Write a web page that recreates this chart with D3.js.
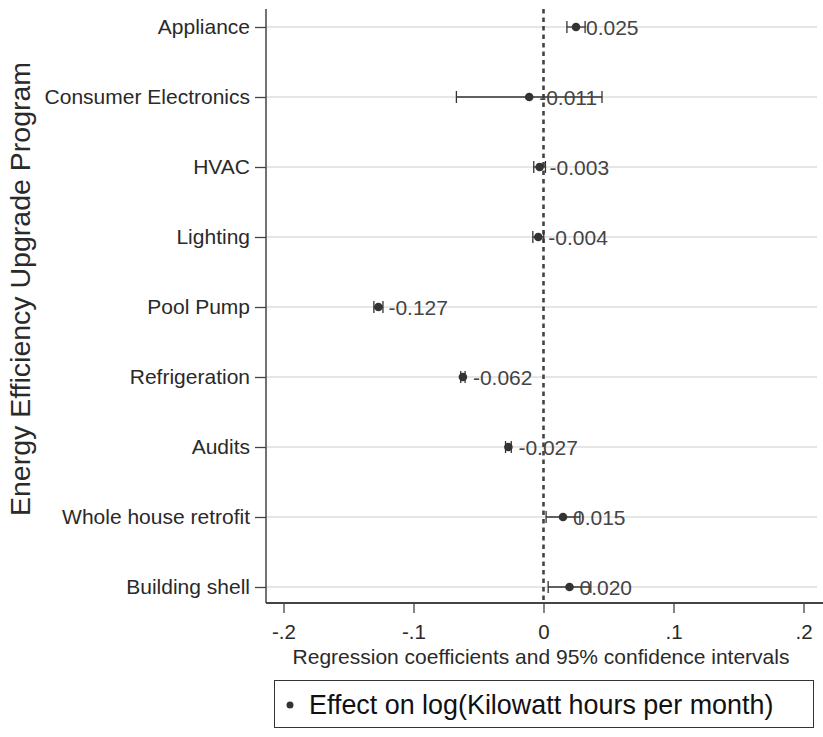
<!DOCTYPE html>
<html>
<head>
<meta charset="utf-8">
<script src="https://cdn.jsdelivr.net/npm/d3@7"></script>
<style>
  html, body { margin: 0; padding: 0; background: #fff; }
  svg { display: block; }
  text { font-family: "Liberation Sans", Arial, sans-serif; }
</style>
</head>
<body>
<svg id="chart" width="823" height="737"></svg>
<script>
// ---- data ----
const categories = ["Appliance", "Consumer Electronics", "HVAC", "Lighting", "Pool Pump",
  "Refrigeration", "Audits", "Whole house retrofit", "Building shell"];
const estimates = [0.025, -0.011, -0.003, -0.004, -0.127, -0.062, -0.027, 0.015, 0.020];
const ciLow  = [0.018, -0.067, -0.0075, -0.0082, -0.1305, -0.0637, -0.0292, 0.002, 0.0036];
const ciHigh = [0.032, 0.045, 0.0015, 0.0002, -0.1235, -0.0603, -0.0248, 0.028, 0.0364];
const labels = ["0.025", "-0.011", "-0.003", "-0.004", "-0.127", "-0.062", "-0.027", "0.015", "0.020"];
const xTicks = [-0.2, -0.1, 0, 0.1, 0.2];
const xTickLabels = ["-.2", "-.1", "0", ".1", ".2"];

(function () {
const svg = d3.select("#chart");
const plotLeft = 266, plotRight = 823, plotTop = 9, plotBottom = 603;

const x = d3.scaleLinear().domain([-0.2, 0.2]).range([283.5, 803.5]);
const y = d3.scalePoint().domain(categories).range([27, 587]);

// gridlines
svg.append("g").selectAll("line").data(categories).join("line")
  .attr("x1", plotLeft).attr("x2", 817)
  .attr("y1", d => y(d)).attr("y2", d => y(d))
  .attr("stroke", "#e6e6e6").attr("stroke-width", 2);

// zero reference line
svg.append("line")
  .attr("x1", x(0)).attr("x2", x(0)).attr("y1", plotTop).attr("y2", plotBottom)
  .attr("stroke", "#444").attr("stroke-width", 2.6).attr("stroke-dasharray", "4.5,4");

// y axis
const yAxis = d3.axisLeft(y).tickSize(11).tickPadding(5);
const gy = svg.append("g").attr("transform", `translate(${plotLeft},0)`).call(yAxis);
gy.select(".domain").attr("d", `M0,${plotTop}V${plotBottom}`).attr("stroke", "#444").attr("stroke-width", 1.5);
gy.selectAll(".tick line").attr("stroke", "#444").attr("stroke-width", 1.3);
gy.selectAll(".tick text").attr("font-size", 21).attr("fill", "#2a2a2a")
  .attr("font-family", "'Liberation Sans', Arial, sans-serif");

// x axis
const xAxis = d3.axisBottom(x).tickValues(xTicks).tickSize(10).tickPadding(11)
  .tickFormat((d, i) => xTickLabels[i]);
const gx = svg.append("g").attr("transform", `translate(0,${plotBottom})`).call(xAxis);
gx.select(".domain").attr("d", `M${plotLeft},0H${plotRight}`).attr("stroke", "#444").attr("stroke-width", 2);
gx.selectAll(".tick line").attr("stroke", "#444").attr("stroke-width", 1.3);
gx.selectAll(".tick text").attr("font-size", 20.5).attr("fill", "#2a2a2a")
  .attr("font-family", "'Liberation Sans', Arial, sans-serif");

// axis titles
svg.append("text").attr("x", 541).attr("y", 664).attr("text-anchor", "middle")
  .attr("font-size", 21).attr("fill", "#2a2a2a")
  .text("Regression coefficients and 95% confidence intervals");
svg.append("text").attr("transform", "translate(30,289) rotate(-90)").attr("text-anchor", "middle")
  .attr("font-size", 28.5).attr("fill", "#2a2a2a")
  .text("Energy Efficiency Upgrade Program");

// CIs
const rows = categories.map((c, i) => ({ c, est: estimates[i], lo: ciLow[i], hi: ciHigh[i], lab: labels[i] }));
const g = svg.append("g");
g.selectAll("line.ci").data(rows).join("line").attr("class", "ci")
  .attr("x1", d => x(d.lo)).attr("x2", d => x(d.hi))
  .attr("y1", d => y(d.c)).attr("y2", d => y(d.c))
  .attr("stroke", "#333").attr("stroke-width", 1.3);
["lo", "hi"].forEach(k => {
  g.selectAll("line.cap" + k).data(rows).join("line").attr("class", "cap" + k)
    .attr("x1", d => x(d[k])).attr("x2", d => x(d[k]))
    .attr("y1", d => y(d.c) - 6).attr("y2", d => y(d.c) + 6)
    .attr("stroke", "#333").attr("stroke-width", 1.3);
});
g.selectAll("circle").data(rows).join("circle")
  .attr("cx", d => x(d.est)).attr("cy", d => y(d.c)).attr("r", 4.3)
  .attr("fill", "#333");
g.selectAll("text.lab").data(rows).join("text").attr("class", "lab")
  .attr("x", d => x(d.est) + 10).attr("y", d => y(d.c) + 7.5)
  .attr("font-size", 21).attr("fill", "#444")
  .text(d => d.lab);

// legend
svg.append("rect").attr("x", 274.5).attr("y", 680.5).attr("width", 539).attr("height", 47)
  .attr("fill", "#fff").attr("stroke", "#333").attr("stroke-width", 1);
svg.append("circle").attr("cx", 290).attr("cy", 705).attr("r", 3.5).attr("fill", "#333");
svg.append("text").attr("x", 309).attr("y", 714).attr("font-size", 26.9).attr("fill", "#111")
  .text("Effect on log(Kilowatt hours per month)");
})();
</script>
</body>
</html>
